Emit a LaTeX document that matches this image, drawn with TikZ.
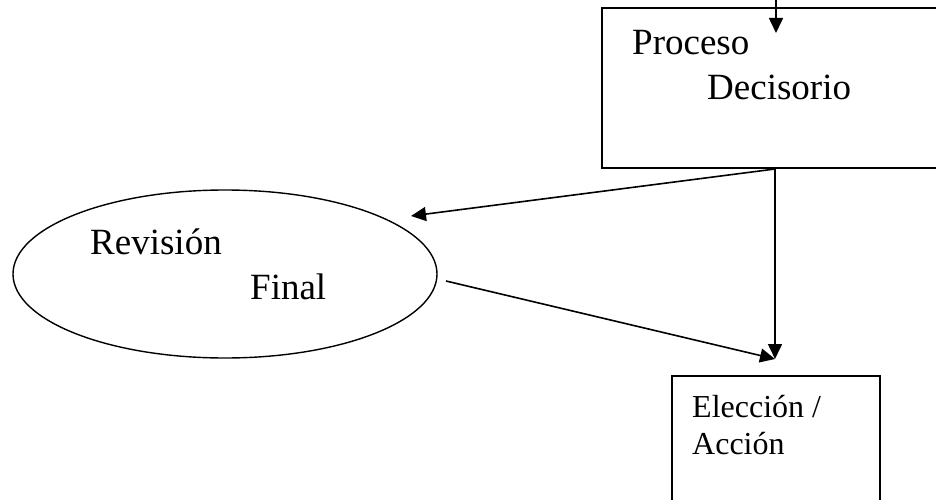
\documentclass[tikz,border=0pt]{standalone}
\usepackage{fontspec}
\setmainfont{Liberation Serif}
\usetikzlibrary{shapes.geometric,arrows.meta,positioning}

\begin{document}
\begin{tikzpicture}[
    x=1pt, y=-1pt,
    box/.style={rectangle, draw=black, line width=1.6pt, inner sep=0pt},
    oval/.style={ellipse, draw=black, line width=1.4pt, inner sep=0pt},
    bigtext/.style={anchor=base west, inner sep=0pt, font=\fontsize{37}{44}\selectfont},
    smalltext/.style={anchor=base west, inner sep=0pt, font=\fontsize{32}{37}\selectfont},
    arrow/.style={-{Triangle[length=15pt,width=14pt]}, line width=1.6pt}
]
\path[use as bounding box, clip] (0,0) rectangle (936,500);

% Proceso Decisorio
\node[box, minimum width=378, minimum height=160] (proc) at (791,88) {};
\node[bigtext] (proc1) at (632,55) {Proceso};
\node[bigtext] (proc2) at (707,100) {Decisorio};

% Revision Final
\node[oval, minimum width=424, minimum height=168] (rev) at (225,274) {};
\node[bigtext] (rev1) at (90,254) {Revisión};
\node[bigtext] (rev2) at (250,299) {Final};

% Eleccion / Accion
\node[box, minimum width=208, minimum height=180] (elec) at (776,466) {};
\node[smalltext] (elec1) at (692,417) {Elección /};
\node[smalltext] (elec2) at (692,454) {Acción};

% Arrow ends
\coordinate (top) at (776,-10);
\coordinate (procin) at (776,33);
\coordinate (procout) at (775,169);
\coordinate (revin) at (411,216);
\coordinate (revout) at (446,281);
\coordinate (elecin) at (775,359);

% Connections
\draw[arrow] (top) -- (procin);
\draw[arrow] (procout) -- (revin);
\draw[arrow] (procout) -- (elecin);
\draw[arrow] (revout) -- (elecin);

\end{tikzpicture}
\end{document}
